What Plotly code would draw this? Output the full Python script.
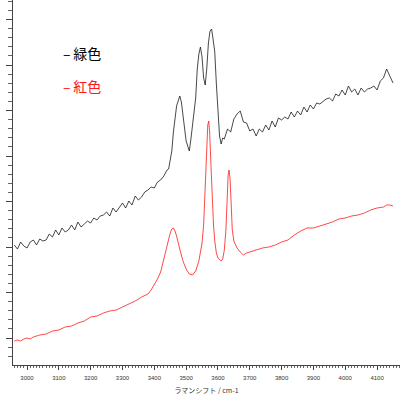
import plotly.graph_objects as go

# Raman shift (cm-1) and intensity (arbitrary units)
green_x = [2960, 2970, 2980, 2990, 3000, 3010, 3020, 3030, 3040, 3050, 3060, 3070, 3080, 3090,
           3100, 3110, 3120, 3130, 3140, 3150, 3160, 3170, 3180, 3190, 3200, 3210, 3220, 3230,
           3240, 3250, 3260, 3270, 3280, 3290, 3300, 3310, 3320, 3330, 3340, 3350, 3360, 3370,
           3380, 3390, 3400, 3410, 3420, 3430, 3440, 3445, 3450, 3455, 3460, 3465, 3470, 3475,
           3480, 3485, 3490, 3495, 3500, 3505, 3510, 3515, 3520, 3525, 3530, 3535, 3540, 3545,
           3550, 3555, 3560, 3565, 3570, 3575, 3580, 3585, 3590, 3595, 3600, 3605, 3610, 3615,
           3620, 3630, 3640, 3650, 3660, 3670, 3680, 3690, 3700, 3710, 3720, 3730, 3740, 3750,
           3760, 3770, 3780, 3790, 3800, 3810, 3820, 3830, 3840, 3850, 3860, 3870, 3880, 3890,
           3900, 3910, 3920, 3930, 3940, 3950, 3960, 3970, 3980, 3990, 4000, 4010, 4020, 4030,
           4040, 4050, 4060, 4070, 4080, 4090, 4100, 4110, 4120, 4130, 4140, 4150]
green_y = [120, 116, 123, 119, 117, 123, 125, 120, 126, 124, 125, 131, 128, 135,
           130, 137, 133, 135, 140, 135, 143, 138, 141, 144, 142, 147, 145, 149,
           150, 153, 149, 157, 153, 158, 162, 157, 164, 160, 169, 165, 168, 173,
           175, 178, 177, 183, 185, 189, 195, 196, 206, 214, 233, 245, 259, 264,
           269, 263, 247, 237, 224, 218, 214, 226, 239, 256, 267, 296, 311, 318,
           308, 287, 280, 297, 322, 334, 336, 325, 313, 281, 247, 229, 221, 227,
           226, 236, 233, 246, 251, 254, 243, 242, 234, 236, 229, 236, 233, 240,
           235, 244, 238, 247, 245, 248, 246, 253, 248, 254, 250, 258, 253, 260,
           256, 262, 261, 264, 266, 267, 264, 271, 269, 275, 270, 279, 273, 276,
           270, 277, 273, 276, 277, 279, 275, 284, 287, 296, 289, 282]

red_x = [2960, 2970, 2980, 2990, 3000, 3010, 3020, 3030, 3040, 3060, 3080, 3100, 3120, 3140,
         3160, 3180, 3200, 3220, 3240, 3260, 3280, 3300, 3320, 3340, 3360, 3380, 3390, 3400,
         3410, 3420, 3430, 3440, 3450, 3455, 3460, 3465, 3470, 3480, 3490, 3500, 3510, 3520,
         3530, 3540, 3545, 3550, 3555, 3560, 3565, 3568, 3571, 3574, 3578, 3582, 3586, 3590,
         3595, 3600, 3605, 3610, 3615, 3620, 3625, 3629, 3632, 3635, 3638, 3641, 3645, 3650,
         3655, 3660, 3670, 3680, 3690, 3700, 3710, 3720, 3740, 3760, 3780, 3800, 3820, 3840,
         3860, 3880, 3900, 3920, 3940, 3960, 3980, 4000, 4020, 4040, 4060, 4080, 4100, 4120,
         4130, 4140, 4150]
red_y = [24, 25, 24, 26, 27, 26, 28, 29, 30, 31, 34, 35, 38, 39,
         42, 44, 48, 49, 52, 54, 55, 58, 61, 64, 68, 71, 75, 80,
         86, 93, 107, 119, 132, 136, 137, 134, 129, 116, 104, 96, 91, 90,
         94, 104, 112, 122, 140, 175, 220, 240, 244, 232, 200, 168, 140, 124,
         112, 107, 105, 104, 106, 115, 135, 168, 190, 195, 186, 165, 135, 124,
         120, 117, 113, 110, 112, 113, 114, 115, 117, 118, 120, 123, 125, 130,
         134, 137, 137, 139, 141, 143, 146, 147, 149, 150, 152, 155, 157, 158,
         160, 160, 159]

x_tick_vals = [3000, 3100, 3200, 3300, 3400, 3500, 3600, 3700, 3800, 3900, 4000, 4100]
legend_labels = ["緑色", "紅色"]
x_title = "ラマンシフト / cm-1"

fig = go.Figure()
fig.add_trace(go.Scatter(x=green_x, y=green_y, mode="lines", name=legend_labels[0],
                         line=dict(color="#1a1a1a", width=0.8)))
fig.add_trace(go.Scatter(x=red_x, y=red_y, mode="lines", name=legend_labels[1],
                         line=dict(color="#ff1a1a", width=0.8)))

fig.add_annotation(xref="paper", yref="paper", x=0.125, y=0.855, xanchor="left", yanchor="middle",
                   text="–\u2009" + legend_labels[0], showarrow=False,
                   font=dict(family="Noto Sans CJK JP", size=14, color="#000000"))
fig.add_annotation(xref="paper", yref="paper", x=0.125, y=0.765, xanchor="left", yanchor="middle",
                   text="–\u2009" + legend_labels[1], showarrow=False,
                   font=dict(family="Noto Sans CJK JP", size=14, color="#ff1a1a"))

fig.update_layout(
    width=400, height=395,
    margin=dict(l=13, r=0, t=0, b=30),
    paper_bgcolor="white", plot_bgcolor="white",
    showlegend=False,
    xaxis=dict(range=[2956, 4172], showgrid=False, zeroline=False,
               showline=True, linecolor="#444444", linewidth=1,
               tickmode="array", tickvals=x_tick_vals,
               ticks="outside", ticklen=4, tickcolor="#444444", tickwidth=1,
               minor=dict(dtick=10, tick0=2960, ticks="outside", ticklen=2, tickcolor="#666666"),
               tickfont=dict(family="Liberation Sans", size=6, color="#333333"),
               ticklabelstandoff=3,
               title=dict(text=x_title, font=dict(family="Noto Sans CJK JP", size=7, color="#333333"),
                          standoff=7)),
    yaxis=dict(range=[0, 365], showgrid=False, zeroline=False,
               showline=True, linecolor="#444444", linewidth=1,
               showticklabels=False,
               tickmode="linear", tick0=27, dtick=45.5,
               ticks="outside", ticklen=6, tickcolor="#444444", tickwidth=1,
               minor=dict(tick0=27, dtick=9.1, ticks="outside", ticklen=4, tickcolor="#666666")),
)

fig.write_html("out.html", config={"displayModeBar": False},
               post_script="document.body.style.margin='0';document.body.style.overflow='hidden';")
